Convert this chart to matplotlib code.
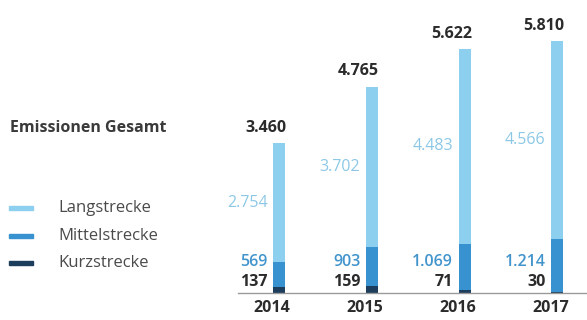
import matplotlib.pyplot as plt
from matplotlib.patches import Rectangle

plt.rcParams['font.family'] = ['Open Sans', 'DejaVu Sans']

years = ['2014', '2015', '2016', '2017']
kurz = [137, 159, 71, 30]
mittel = [569, 903, 1069, 1214]
lang = [2754, 3702, 4483, 4566]
gesamt = [3460, 4765, 5622, 5810]

c_lang = '#8dcfee'
c_mittel = '#3892d0'
c_kurz = '#1d3d5c'
c_text = '#2b2b2b'


def de(v):
    return f"{v:,}".replace(",", ".")


fig = plt.figure(figsize=(5.87, 3.2), dpi=100)
ax = fig.add_axes([238 / 587, 27 / 320, 349 / 587, 293 / 320])

x = list(range(len(years)))
w = 0.13
ax.bar(x, kurz, w, color=c_kurz)
ax.bar(x, mittel, w, bottom=kurz, color=c_mittel)
bottom_lang = [k + m for k, m in zip(kurz, mittel)]
ax.bar(x, lang, w, bottom=bottom_lang, color=c_lang)

ax.set_xlim(-0.442, 3.32)
ax.set_ylim(0, 6760)
for s in ['top', 'right', 'left']:
    ax.spines[s].set_visible(False)
ax.spines['bottom'].set_color('#9a9a9a')
ax.spines['bottom'].set_linewidth(1.0)
ax.set_yticks([])
ax.set_xticks([])

fs = 11.5
for i in x:
    left = i - w / 2
    right = i + w / 2
    # totals
    ax.annotate(de(gesamt[i]), (right, gesamt[i]), xytext=(1, 11),
                textcoords='offset points', ha='right', va='center',
                fontsize=fs, fontweight='bold', color=c_text)
    # Langstrecke in the middle of its segment
    ax.annotate(de(lang[i]), (left, bottom_lang[i] + lang[i] / 2), xytext=(-4, 0),
                textcoords='offset points', ha='right', va='center',
                fontsize=fs, color='#8cc8e6')
    # Mittelstrecke and Kurzstrecke near the baseline
    ax.annotate(de(mittel[i]), (left, 0), xytext=(-4, 22),
                textcoords='offset points', ha='right', va='center',
                fontsize=fs, fontweight='semibold', color='#4194cc')
    ax.annotate(de(kurz[i]), (left, 0), xytext=(-4, 8),
                textcoords='offset points', ha='right', va='center',
                fontsize=fs, fontweight='bold', color=c_text)
    # year
    ax.annotate(years[i], (i, 0), xytext=(-5, -10.5),
                textcoords='offset points', ha='center', va='center',
                fontsize=11.5, fontweight='bold', color=c_text)

fig.text(10 / 587, 1 - 128 / 320, 'Emissionen Gesamt', ha='left', va='center',
         fontsize=11.5, fontweight='bold', color='#3a3a3a')

legend_items = [('Langstrecke', c_lang), ('Mittelstrecke', c_mittel), ('Kurzstrecke', c_kurz)]
for k, (name, col) in enumerate(legend_items):
    yc = 208 + k * 27.5
    fig.add_artist(Rectangle((9 / 587, 1 - (yc + 2) / 320), 24 / 587, 4 / 320,
                             transform=fig.transFigure, color=col))
    fig.text(58 / 587, 1 - yc / 320, name, ha='left', va='center',
             fontsize=12, color='#4a4a4a')

fig.savefig('out.png', dpi=100)
